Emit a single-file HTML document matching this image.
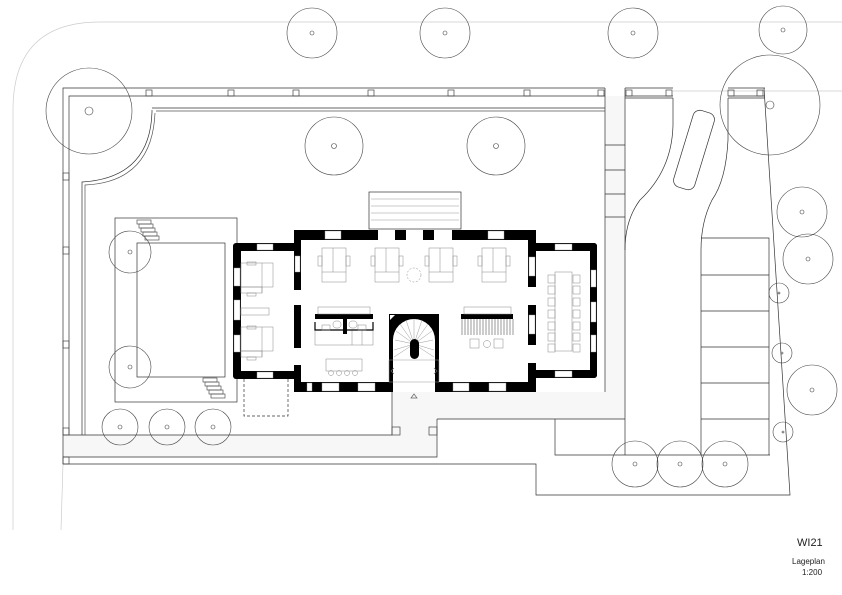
<!DOCTYPE html>
<html><head><meta charset="utf-8"><style>html,body{margin:0;padding:0;background:#fff}svg{display:block}</style></head>
<body>
<svg width="842" height="595" viewBox="0 0 842 595" xmlns="http://www.w3.org/2000/svg" fill="none" stroke="#333" stroke-width="0.7">
<!-- road -->
<path d="M13,530 L13,110 Q13,22 100,22 L842,22" stroke="#ccc"/>
<line x1="673" y1="91" x2="842" y2="91" stroke="#ccc"/>
<line x1="63" y1="464" x2="61" y2="530" stroke="#ccc"/>
<!-- paved areas -->
<path d="M63,435 L392,435 L392,392 L625,392 L625,419 L437,419 L437,457 L63,457 Z" fill="#f7f7f7" stroke="none"/>
<rect x="605" y="96" width="20" height="296" fill="#f7f7f7" stroke="none"/>
<!-- site walls -->
<path d="M63,464 L63,88 L605,88 M625,88 L673,88 M728,88 L765,88"/>
<path d="M69,435 L69,96 L605,96 M625,96 L673,96 M728,96 L765,96"/>
<path d="M625,98 L673,98 M728,98 L765,98"/>
<path d="M605,88 L605,392 M625,88 L625,455"/>
<path d="M605,145 L625,145 M605,170 L625,170 M605,194 L625,194 M605,217 L625,217"/>
<path d="M152,108 L605,108 M152,110 L152,112 Q150,178 82,182 L82,435"/>
<path d="M156,111 L605,111 M155,113 Q152,182 85,185 L85,435" stroke="#555"/>
<path d="M63,435 L392,435 L392,419 M437,419 L437,457 L63,457 M392,392 L392,435"/>
<path d="M437,419 L625,419 M555,419 L555,455 L770,455"/>
<path d="M63,464 L536,464 L536,495 L790,495 L764,88"/>
<!-- small posts -->
<g stroke="#444">
<rect x="146" y="90" width="6" height="6"/><rect x="228" y="90" width="6" height="6"/><rect x="293" y="90" width="6" height="6"/><rect x="368" y="90" width="6" height="6"/><rect x="448" y="90" width="6" height="6"/><rect x="524" y="90" width="6" height="6"/><rect x="598" y="90" width="6" height="6"/><rect x="626" y="90" width="6" height="6"/><rect x="666" y="90" width="6" height="6"/><rect x="728" y="90" width="6" height="6"/><rect x="757" y="90" width="6" height="6"/>
<rect x="63" y="173" width="6" height="7"/><rect x="63" y="247" width="6" height="7"/><rect x="63" y="341" width="6" height="7"/><rect x="63" y="428" width="6" height="7"/><rect x="63" y="457" width="6" height="7"/>
<rect x="392" y="427" width="8" height="8"/><rect x="429" y="427" width="8" height="8"/>
</g>
<!-- driveway -->
<path d="M673,98 L673,125 Q672,170 640,200 Q625,220 625,250"/>
<path d="M728,98 L728,140 Q726,180 712,200 Q701,222 701,250 L701,455"/>
<rect x="683" y="110" width="22" height="80" rx="7" transform="rotate(17 694 150)"/>
<!-- parking -->
<path d="M701,238 L769,238 L769,455 M701,275 L769,275 M701,311 L769,311 M701,347 L769,347 M701,383 L769,383 M701,419 L769,419"/>
<!-- pool -->
<rect x="115" y="218" width="122" height="184"/>
<rect x="137" y="243" width="88" height="134"/>
<g stroke="#555"><rect x="137" y="220" width="14" height="4"/><rect x="139" y="224" width="14" height="4"/><rect x="141" y="228" width="14" height="4"/><rect x="143" y="232" width="14" height="4"/><rect x="145" y="236" width="14" height="4"/>
<rect x="203" y="378" width="14" height="4"/><rect x="205" y="382" width="14" height="4"/><rect x="207" y="386" width="14" height="4"/><rect x="209" y="390" width="14" height="4"/><rect x="211" y="394" width="14" height="4"/></g>
<rect x="244" y="378" width="44" height="38" stroke-dasharray="3,2"/>
<!-- terrace -->
<rect x="369" y="192" width="92" height="37"/>
<path d="M371,199 L459,199 M371,206 L459,206 M371,213 L459,213 M371,220 L459,220" stroke="#bbb"/>
<!-- building walls -->
<g fill="#000" stroke="none">
<path d="M294,230 L536,230 L536,240 L294,240 Z"/>
<path d="M294,382 L536,382 L536,392 L294,392 Z"/>
<rect x="233" y="243" width="64" height="8" rx="3"/>
<rect x="233" y="371" width="64" height="8" rx="3"/>
<rect x="233" y="243" width="8" height="136" rx="4"/>
<rect x="294" y="230" width="7" height="60"/>
<rect x="294" y="305" width="7" height="43"/>
<rect x="294" y="365" width="7" height="27"/>
<rect x="533" y="243" width="64" height="8" rx="3"/>
<rect x="533" y="370" width="64" height="8" rx="3"/>
<rect x="590" y="243" width="7" height="135" rx="3"/>
<rect x="528" y="230" width="8" height="57"/>
<rect x="528" y="305" width="8" height="40"/>
<rect x="528" y="363" width="8" height="29"/>
<rect x="389" y="314" width="50" height="46"/>
<rect x="389" y="360" width="4" height="22"/><rect x="435" y="360" width="4" height="22"/>
<!-- kitchen / library bars -->
<rect x="315" y="314" width="58" height="5"/><rect x="343" y="319" width="4" height="15"/>
<rect x="461" y="314" width="52" height="5"/>
</g>
<!-- windows (white) -->
<g fill="#fff" stroke="#999" stroke-width="0.4">
<rect x="325" y="231" width="16" height="8"/><rect x="488" y="231" width="16" height="8"/>
<rect x="378" y="230" width="17" height="10" stroke="none"/><rect x="406" y="230" width="17" height="10" stroke="none"/><rect x="434" y="230" width="18" height="10" stroke="none"/>
<rect x="307" y="383" width="5" height="8"/><rect x="322" y="383" width="17" height="8"/><rect x="358" y="383" width="17" height="8"/>
<rect x="453" y="383" width="16" height="8"/><rect x="489" y="383" width="17" height="8"/>
<rect x="393" y="382" width="42" height="10" stroke="none"/>
<rect x="257" y="244" width="16" height="6"/><rect x="257" y="372" width="16" height="6"/>
<rect x="234" y="268" width="6" height="18"/><rect x="234" y="300" width="6" height="20"/><rect x="234" y="335" width="6" height="17"/>
<rect x="295" y="256" width="5" height="16"/><rect x="295" y="348" width="5" height="4" stroke="none"/>
<rect x="555" y="244" width="17" height="6"/><rect x="555" y="371" width="17" height="6"/>
<rect x="591" y="270" width="5" height="17"/><rect x="591" y="302" width="5" height="20"/><rect x="591" y="335" width="5" height="17"/>
<rect x="529" y="257" width="6" height="19"/><rect x="529" y="315" width="6" height="19"/>
</g>
<path d="M301,305 L297,310 L297,343 L301,348" stroke="#000" stroke-width="0"/>
<!-- stair -->
<path d="M393,360 L393,340 A21,21 0 0 1 435,340 L435,360 Z" fill="#fff" stroke="none"/>
<g stroke="#999" stroke-width="0.5">
<path d="M414,344 L395,340 M414,344 L396,331 M414,344 L400,324 M414,344 L406,320 M414,344 L414,319 M414,344 L422,320 M414,344 L428,324 M414,344 L432,331 M414,344 L433,340 M414,344 L394,350 M414,344 L434,350 M414,344 L394,357 M414,344 L434,357"/>
<rect x="389" y="360" width="50" height="22"/>
</g>
<rect x="410" y="339" width="9" height="20" rx="4.5" fill="#000" stroke="none"/>
<path d="M390,315 L395,315 L390,320 Z" fill="#fff" stroke="none"/>
<path d="M394,368 L391,371 L394,374 M434,368 L437,371 L434,374" stroke="#666"/>
<path d="M411,398 L414,394 L417,398 Z" stroke="#666"/>
<!-- hall desks -->
<g stroke="#888" stroke-width="0.5">
<g id="d"><rect x="322" y="248" width="24" height="34"/><line x1="333" y1="248" x2="333" y2="272"/><line x1="322" y1="272" x2="346" y2="272"/><rect x="318" y="256" width="4" height="10"/><rect x="346" y="256" width="4" height="10"/></g>
<use href="#d" x="53"/><use href="#d" x="107"/><use href="#d" x="160"/>
<circle cx="414" cy="275" r="7" stroke-dasharray="2,1.5"/>
<!-- left wing desks -->
<rect x="241" y="263" width="32" height="24"/><line x1="262" y1="263" x2="262" y2="293"/><rect x="241" y="287" width="21" height="6"/><rect x="247" y="262" width="9" height="3"/><rect x="247" y="293" width="9" height="3"/>
<rect x="241" y="327" width="32" height="24"/><line x1="262" y1="327" x2="262" y2="357"/><rect x="241" y="351" width="21" height="6"/><rect x="247" y="326" width="9" height="3"/><rect x="247" y="357" width="9" height="3"/>
<rect x="241" y="308" width="28" height="7"/>
<!-- kitchen -->
<rect x="318" y="307" width="52" height="7"/>
<rect x="315" y="330" width="58" height="15"/><line x1="352" y1="330" x2="352" y2="345"/><line x1="362" y1="330" x2="362" y2="345"/>
<path d="M315,322 L315,330 L373,330 L373,322" stroke="#000" stroke-width="1.2"/>
<rect x="322" y="325" width="8" height="5"/><rect x="358" y="325" width="8" height="5"/>
<rect x="333" y="321" width="8" height="7" rx="3"/><rect x="349" y="321" width="8" height="7" rx="3"/>
<rect x="326" y="359" width="36" height="12"/>
<circle cx="331" cy="373" r="2.5"/><circle cx="339" cy="373" r="2.5"/><circle cx="347" cy="373" r="2.5"/><circle cx="355" cy="373" r="2.5"/>
<!-- library -->
<rect x="464" y="307" width="47" height="7"/>
<path d="M462,319 V335 M465,319 V335 M468,319 V335 M471,319 V335 M474,319 V335 M477,319 V335 M480,319 V335 M483,319 V335 M486,319 V335 M489,319 V335 M492,319 V335 M495,319 V335 M498,319 V335 M501,319 V335 M504,319 V335 M507,319 V335 M510,319 V335 M513,319 V335" stroke="#333"/>
<rect x="470" y="339" width="9" height="9"/><circle cx="487" cy="344" r="3.5"/><rect x="494" y="339" width="9" height="9"/>
<!-- conference -->
<rect x="555" y="272" width="17" height="79"/>
<g id="c"><rect x="548" y="275" width="7" height="8"/><rect x="573" y="275" width="7" height="8"/></g>
<use href="#c" y="11"/><use href="#c" y="23"/><use href="#c" y="35"/><use href="#c" y="47"/><use href="#c" y="58"/><use href="#c" y="69"/>
</g>
<!-- trees -->
<g stroke="#444" stroke-width="0.6">
<circle cx="312" cy="33" r="25"/><circle cx="312" cy="33" r="2"/>
<circle cx="445" cy="33" r="25"/><circle cx="445" cy="33" r="2"/>
<circle cx="633" cy="33" r="25"/><circle cx="633" cy="33" r="2"/>
<circle cx="783" cy="30" r="24"/><circle cx="783" cy="30" r="2"/>
<circle cx="89" cy="111" r="43"/><circle cx="89" cy="111" r="4"/>
<circle cx="334" cy="146" r="29"/><circle cx="334" cy="146" r="2.5"/>
<circle cx="496" cy="146" r="29"/><circle cx="496" cy="146" r="2.5"/>
<circle cx="130" cy="252" r="21"/><circle cx="130" cy="252" r="2"/>
<circle cx="130" cy="367" r="21"/><circle cx="130" cy="367" r="2"/>
<circle cx="120" cy="427" r="18"/><circle cx="120" cy="427" r="2"/>
<circle cx="167" cy="427" r="18"/><circle cx="167" cy="427" r="2"/>
<circle cx="213" cy="427" r="18"/><circle cx="213" cy="427" r="2"/>
<circle cx="770" cy="105" r="50"/><circle cx="770" cy="105" r="4"/>
<circle cx="802" cy="212" r="25"/><circle cx="802" cy="212" r="2"/>
<circle cx="808" cy="259" r="25"/><circle cx="808" cy="259" r="2"/>
<circle cx="779" cy="293" r="10"/><circle cx="779" cy="293" r="1"/>
<circle cx="782" cy="353" r="10"/><circle cx="782" cy="353" r="1"/>
<circle cx="812" cy="390" r="25"/><circle cx="812" cy="390" r="2"/>
<circle cx="783" cy="432" r="10"/><circle cx="783" cy="432" r="1"/>
<circle cx="635" cy="464" r="23"/><circle cx="635" cy="464" r="2"/>
<circle cx="680" cy="464" r="23"/><circle cx="680" cy="464" r="2"/>
<circle cx="725" cy="464" r="23"/><circle cx="725" cy="464" r="2"/>
</g>
<g fill="#222" stroke="none" font-family="Liberation Sans, sans-serif">
<text x="797" y="546" font-size="11">WI21</text>
<text x="792" y="564" font-size="8">Lageplan</text>
<text x="802" y="575" font-size="8">1:200</text>
</g>
</svg>
</body></html>
